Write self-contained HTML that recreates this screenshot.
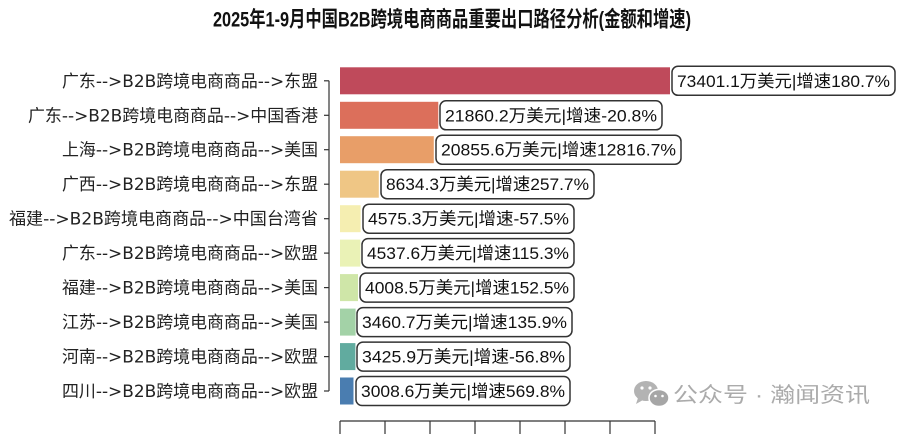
<!DOCTYPE html>
<html>
<head>
<meta charset="utf-8">
<style>
  html,body{margin:0;padding:0;background:#fff;}
  body{width:900px;height:434px;overflow:hidden;}
  svg{display:block;}
  .t{font-family:"Liberation Sans","Noto Sans CJK SC",sans-serif;}
  .yl{font-family:"DejaVu Sans","Noto Sans CJK SC",sans-serif;font-size:17px;fill:#222;}
  .bl{font-family:"Liberation Sans","Noto Sans CJK SC",sans-serif;font-size:17px;fill:#111;}
</style>
</head>
<body>
<svg width="900" height="434" viewBox="0 0 900 434" xmlns="http://www.w3.org/2000/svg">
  <!-- title -->
  <text class="t" x="213" y="26.5" font-size="21.5" font-weight="bold" fill="#111" textLength="478" lengthAdjust="spacingAndGlyphs">2025年1-9月中国B2B跨境电商商品重要出口路径分析(金额和增速)</text>

  <!-- bars -->
  <g>
    <rect x="340" y="67.3" width="330" height="27" fill="#bf4a5b"/>
    <rect x="340" y="101.8" width="98.3" height="27" fill="#dc6f5b"/>
    <rect x="340" y="136.2" width="93.8" height="27" fill="#e89e68"/>
    <rect x="340" y="170.7" width="38.8" height="27" fill="#efc685"/>
    <rect x="340" y="205.2" width="20.6" height="27" fill="#f5eeb1"/>
    <rect x="340" y="239.6" width="20.4" height="27" fill="#eaf2b6"/>
    <rect x="340" y="274.1" width="18.0" height="27" fill="#cfe6a8"/>
    <rect x="340" y="308.6" width="15.6" height="27" fill="#a3d2a7"/>
    <rect x="340" y="343.1" width="15.4" height="27" fill="#61ab9f"/>
    <rect x="340" y="377.5" width="13.5" height="27" fill="#4a7db0"/>
  </g>

  <!-- y axis spine and ticks -->
  <g stroke="#333" stroke-width="1.2" fill="none">
    <line x1="329" y1="80.8" x2="329" y2="391.0"/>
    <line x1="324" y1="80.8" x2="329" y2="80.8"/>
    <line x1="324" y1="115.3" x2="329" y2="115.3"/>
    <line x1="324" y1="149.7" x2="329" y2="149.7"/>
    <line x1="324" y1="184.2" x2="329" y2="184.2"/>
    <line x1="324" y1="218.7" x2="329" y2="218.7"/>
    <line x1="324" y1="253.1" x2="329" y2="253.1"/>
    <line x1="324" y1="287.6" x2="329" y2="287.6"/>
    <line x1="324" y1="322.1" x2="329" y2="322.1"/>
    <line x1="324" y1="356.6" x2="329" y2="356.6"/>
    <line x1="324" y1="391.0" x2="329" y2="391.0"/>
  </g>

  <!-- x axis spine and ticks -->
  <g stroke="#333" stroke-width="1.2" fill="none">
    <line x1="340" y1="421" x2="655" y2="421"/>
    <line x1="340" y1="421" x2="340" y2="434"/>
    <line x1="385" y1="421" x2="385" y2="434"/>
    <line x1="430" y1="421" x2="430" y2="434"/>
    <line x1="475" y1="421" x2="475" y2="434"/>
    <line x1="520" y1="421" x2="520" y2="434"/>
    <line x1="565" y1="421" x2="565" y2="434"/>
    <line x1="610" y1="421" x2="610" y2="434"/>
    <line x1="655" y1="421" x2="655" y2="434"/>
  </g>

  <!-- y labels -->
  <g class="yl" text-anchor="start">
    <text x="62" y="86.8" textLength="256" lengthAdjust="spacingAndGlyphs">广东--&gt;B2B跨境电商商品--&gt;东盟</text>
    <text x="28" y="121.3" textLength="290" lengthAdjust="spacingAndGlyphs">广东--&gt;B2B跨境电商商品--&gt;中国香港</text>
    <text x="62" y="155.7" textLength="256" lengthAdjust="spacingAndGlyphs">上海--&gt;B2B跨境电商商品--&gt;美国</text>
    <text x="62" y="190.2" textLength="256" lengthAdjust="spacingAndGlyphs">广西--&gt;B2B跨境电商商品--&gt;东盟</text>
    <text x="9" y="224.7" textLength="309" lengthAdjust="spacingAndGlyphs">福建--&gt;B2B跨境电商商品--&gt;中国台湾省</text>
    <text x="62" y="259.1" textLength="256" lengthAdjust="spacingAndGlyphs">广东--&gt;B2B跨境电商商品--&gt;欧盟</text>
    <text x="62" y="293.6" textLength="256" lengthAdjust="spacingAndGlyphs">福建--&gt;B2B跨境电商商品--&gt;美国</text>
    <text x="62" y="328.1" textLength="256" lengthAdjust="spacingAndGlyphs">江苏--&gt;B2B跨境电商商品--&gt;美国</text>
    <text x="62" y="362.6" textLength="256" lengthAdjust="spacingAndGlyphs">河南--&gt;B2B跨境电商商品--&gt;欧盟</text>
    <text x="62" y="397.0" textLength="256" lengthAdjust="spacingAndGlyphs">四川--&gt;B2B跨境电商商品--&gt;欧盟</text>
  </g>

  <!-- value label boxes -->
  <g fill="#fff" stroke="#333" stroke-width="1.5">
    <rect x="672" y="66.3" width="223" height="29" rx="6"/>
    <rect x="440" y="100.8" width="222" height="29" rx="6"/>
    <rect x="436" y="135.2" width="245" height="29" rx="6"/>
    <rect x="381" y="169.7" width="213" height="29" rx="6"/>
    <rect x="363" y="204.2" width="211" height="29" rx="6"/>
    <rect x="362" y="238.6" width="212" height="29" rx="6"/>
    <rect x="360" y="273.1" width="214" height="29" rx="6"/>
    <rect x="357" y="307.6" width="215" height="29" rx="6"/>
    <rect x="357" y="342.1" width="213" height="29" rx="6"/>
    <rect x="356" y="376.5" width="214" height="29" rx="6"/>
  </g>
  <g class="bl">
    <text x="677" y="86.8" textLength="213" lengthAdjust="spacingAndGlyphs">73401.1万美元|增速180.7%</text>
    <text x="445" y="121.3" textLength="212" lengthAdjust="spacingAndGlyphs">21860.2万美元|增速-20.8%</text>
    <text x="441" y="155.7" textLength="235" lengthAdjust="spacingAndGlyphs">20855.6万美元|增速12816.7%</text>
    <text x="386" y="190.2" textLength="203" lengthAdjust="spacingAndGlyphs">8634.3万美元|增速257.7%</text>
    <text x="368" y="224.7" textLength="201" lengthAdjust="spacingAndGlyphs">4575.3万美元|增速-57.5%</text>
    <text x="367" y="259.1" textLength="202" lengthAdjust="spacingAndGlyphs">4537.6万美元|增速115.3%</text>
    <text x="365" y="293.6" textLength="204" lengthAdjust="spacingAndGlyphs">4008.5万美元|增速152.5%</text>
    <text x="362" y="328.1" textLength="205" lengthAdjust="spacingAndGlyphs">3460.7万美元|增速135.9%</text>
    <text x="362" y="362.6" textLength="203" lengthAdjust="spacingAndGlyphs">3425.9万美元|增速-56.8%</text>
    <text x="361" y="397.0" textLength="204" lengthAdjust="spacingAndGlyphs">3008.6万美元|增速569.8%</text>
  </g>

  <!-- watermark -->
  <g fill="#b3b3b3">
    <ellipse cx="646" cy="391" rx="12" ry="10"/>
    <path d="M638 398 L636 404 L643 400 Z"/>
    <ellipse cx="659" cy="398" rx="10" ry="8.5" fill="#a6a6a6" stroke="#fff" stroke-width="1.5"/>
    <circle cx="642" cy="388" r="1.6" fill="#fff"/>
    <circle cx="650" cy="388" r="1.6" fill="#fff"/>
    <circle cx="655.5" cy="396" r="1.3" fill="#fff"/>
    <circle cx="662.5" cy="396" r="1.3" fill="#fff"/>
  </g>
  <text class="t" x="673" y="402" font-size="21" fill="#ababab" textLength="197" lengthAdjust="spacingAndGlyphs">公众号 · 瀚闻资讯</text>
</svg>
</body>
</html>
